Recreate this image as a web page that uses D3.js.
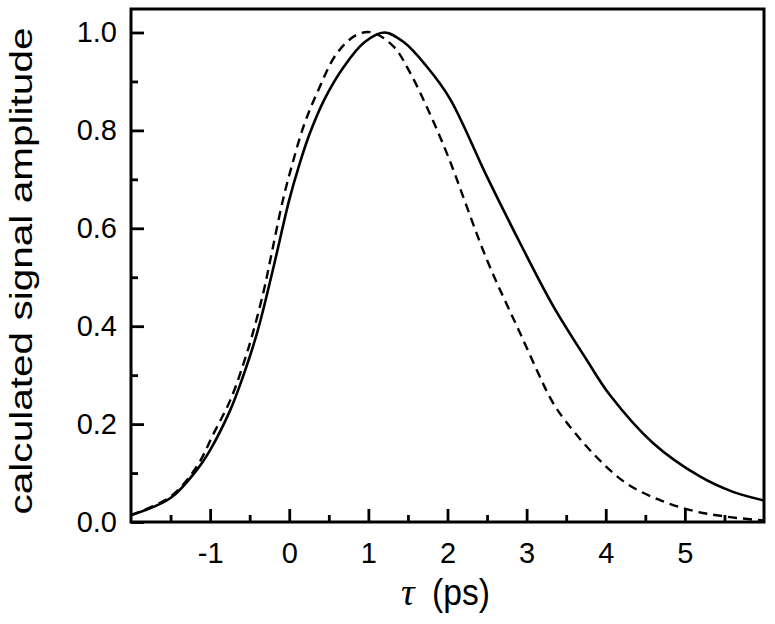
<!DOCTYPE html>
<html>
<head>
<meta charset="utf-8">
<script src="https://cdn.jsdelivr.net/npm/d3@7"></script>
<style>
  body { margin: 0; background: #fff; }
  text { font-family: "Liberation Sans", Arial, sans-serif; fill: #000; }
</style>
</head>
<body>
<div id="chart"></div>
<script>
// solid curve (tau, amplitude)
var solidTau = [-2.0, -1.5, -1.17, -1.0, -0.75, -0.6, -0.4, -0.2, 0, 0.12, 0.26, 0.44, 0.69, 0.95, 1.2, 1.45, 1.74, 2.03, 2.5, 2.92, 3.34, 3.76, 4.05, 4.6, 5.19, 5.6, 6.0];
var solidAmp = [0.014, 0.049, 0.106, 0.147, 0.227, 0.29, 0.39, 0.52, 0.658, 0.726, 0.794, 0.862, 0.93, 0.98, 1.0, 0.98, 0.93, 0.865, 0.705, 0.569, 0.44, 0.331, 0.26, 0.161, 0.093, 0.062, 0.044];

// dashed curve
var dashTau = [-2.0, -1.5, -1.17, -0.955, -0.745, -0.577, -0.45, -0.32, -0.24, -0.08, 0.03, 0.18, 0.35, 0.6, 0.85, 1.05, 1.32, 1.53, 1.76, 2.0, 2.5, 2.92, 3.29, 3.42, 3.84, 4.26, 4.68, 5.1, 5.52, 6.0];
var dashAmp = [0.014, 0.052, 0.113, 0.181, 0.249, 0.324, 0.392, 0.474, 0.535, 0.658, 0.726, 0.808, 0.876, 0.957, 0.995, 1.0, 0.971, 0.917, 0.84, 0.75, 0.535, 0.385, 0.256, 0.222, 0.14, 0.079, 0.045, 0.023, 0.011, 0.003];

var xMajor = [-1, 0, 1, 2, 3, 4, 5];
var xMinor = [-1.5, -0.5, 0.5, 1.5, 2.5, 3.5, 4.5, 5.5];
var yMajor = [0, 0.2, 0.4, 0.6, 0.8, 1.0];
var yMinor = [0.1, 0.3, 0.5, 0.7, 0.9];

var svgWidth = 775;
var svgHeight = 624;
var margin = { top: 9, right: 11, bottom: 102, left: 131 };
var chartWidth = svgWidth - margin.left - margin.right;
var chartHeight = svgHeight - margin.top - margin.bottom;

var svg = d3.select("#chart").append("svg")
  .attr("width", svgWidth)
  .attr("height", svgHeight);

var chartGroup = svg.append("g").attr("transform", `translate(${margin.left}, ${margin.top})`);

var x = d3.scaleLinear().domain([-2, 6]).range([0, chartWidth]);
var y = d3.scaleLinear().domain([0, 1.048]).range([chartHeight, 0]);

var line = d3.line()
  .x(d => x(d[0]))
  .y(d => y(d[1]))
  .curve(d3.curveCatmullRom.alpha(0.5));

svg.append("clipPath").attr("id", "clip")
  .append("rect").attr("width", chartWidth).attr("height", chartHeight);

chartGroup.append("path")
  .datum(dashTau.map((t, i) => [t, dashAmp[i]]))
  .attr("d", line)
  .attr("fill", "none")
  .attr("stroke", "#000")
  .attr("stroke-width", 2.4)
  .attr("stroke-dasharray", "9,6")
  .attr("clip-path", "url(#clip)");

chartGroup.append("path")
  .datum(solidTau.map((t, i) => [t, solidAmp[i]]))
  .attr("d", line)
  .attr("fill", "none")
  .attr("stroke", "#000")
  .attr("stroke-width", 2.6)
  .attr("clip-path", "url(#clip)");

// axes with inward ticks, hyphen for negatives like the original
var fmtX = d => String(d).replace("−", "-");
var bottomAxis = d3.axisBottom(x).tickValues(xMajor).tickSize(-13).tickFormat(fmtX).tickPadding(20);
var bottomMinor = d3.axisBottom(x).tickValues(xMinor).tickSize(-7).tickFormat("");
var leftAxis = d3.axisLeft(y).tickValues(yMajor).tickSize(-13).tickFormat(d3.format(".1f")).tickPadding(14);
var leftMinor = d3.axisLeft(y).tickValues(yMinor).tickSize(-7).tickFormat("");

function styleAxis(g) {
  g.select(".domain").remove();
  g.selectAll("line").attr("stroke", "#000").attr("stroke-width", 2.8);
  g.selectAll("text").style("font-size", "29px").attr("font-family", null);
}

chartGroup.append("g").attr("transform", `translate(0, ${chartHeight})`).call(bottomAxis).call(styleAxis);
chartGroup.append("g").attr("transform", `translate(0, ${chartHeight})`).call(bottomMinor).call(styleAxis);
chartGroup.append("g").call(leftAxis).call(styleAxis);
chartGroup.append("g").call(leftMinor).call(styleAxis);

// frame
chartGroup.append("rect")
  .attr("width", chartWidth)
  .attr("height", chartHeight)
  .attr("fill", "none")
  .attr("stroke", "#000")
  .attr("stroke-width", 3);

// axis titles
svg.append("text")
  .attr("transform", "translate(32, 271) rotate(-90)")
  .attr("text-anchor", "middle")
  .attr("textLength", 487)
  .attr("lengthAdjust", "spacingAndGlyphs")
  .style("font-size", "32px")
  .text("calculated signal amplitude");

svg.append("text")
  .attr("x", 401)
  .attr("y", 605)
  .style("font-family", "'Liberation Serif', 'Times New Roman', serif")
  .style("font-style", "italic")
  .style("font-size", "38px")
  .text("τ");

svg.append("text")
  .attr("x", 432)
  .attr("y", 605)
  .attr("textLength", 58)
  .attr("lengthAdjust", "spacingAndGlyphs")
  .style("font-size", "36px")
  .text("(ps)");
</script>
</body>
</html>
